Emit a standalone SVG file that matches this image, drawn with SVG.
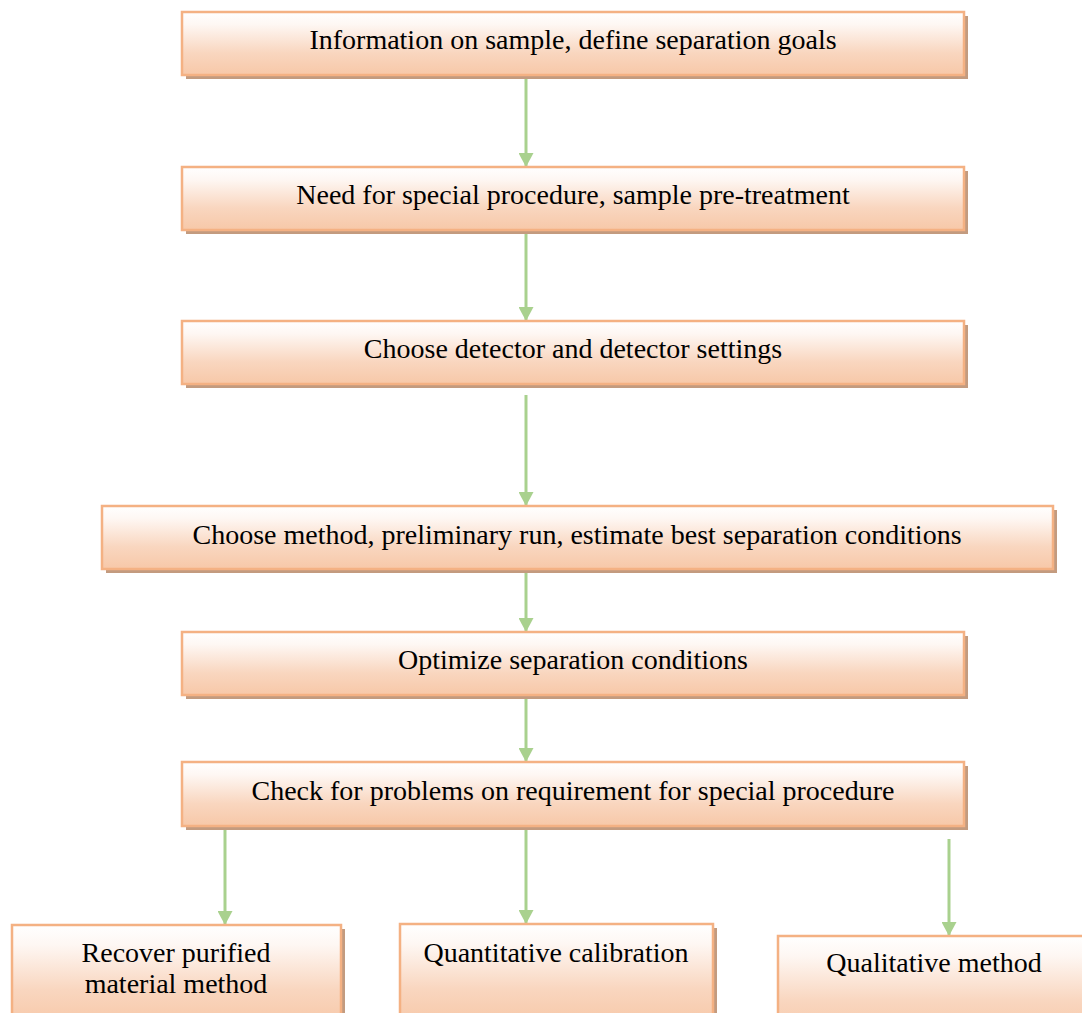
<svg xmlns="http://www.w3.org/2000/svg" width="1082" height="1013" viewBox="0 0 1082 1013">
<defs>
<linearGradient id="g" x1="0" y1="0" x2="0" y2="1">
<stop offset="0" stop-color="#ffffff"/>
<stop offset="0.2" stop-color="#fef7f3"/>
<stop offset="0.65" stop-color="#f9d6bf"/>
<stop offset="1" stop-color="#f7c8a8"/>
</linearGradient>
<marker id="ah" viewBox="0 0 14 15" markerWidth="14" markerHeight="15" refX="14" refY="7.5" orient="auto" markerUnits="userSpaceOnUse">
<path d="M0,0 L14,7.5 L0,15 z" fill="#a9d18e"/>
</marker>
</defs>
<style>
.box{fill:url(#g);stroke:#f4b183;stroke-width:2.5}
.sh{fill:#c39b7f}
.t{font-family:"Liberation Serif","Times New Roman",serif;font-size:28px;fill:#000;text-anchor:middle}
.c{stroke:#a9d18e;stroke-width:3;fill:none;marker-end:url(#ah)}
</style>
<g id="connectors">
<line class="c" x1="526" y1="78" x2="526" y2="167"/>
<line class="c" x1="526" y1="233" x2="526" y2="321"/>
<line class="c" x1="526" y1="395" x2="526" y2="506"/>
<line class="c" x1="526" y1="572" x2="526" y2="632"/>
<line class="c" x1="526" y1="698" x2="526" y2="762"/>
<line class="c" x1="225" y1="829" x2="225" y2="925"/>
<line class="c" x1="526" y1="829" x2="526" y2="924"/>
<line class="c" x1="949" y1="839" x2="949" y2="936"/>
</g>
<g id="n1">
<rect class="sh" x="186" y="16" width="782" height="63"/>
<rect class="box" x="182" y="12" width="782" height="63"/>
<text class="t" x="573" y="49">Information on sample, define separation goals</text>
</g>
<g id="n2">
<rect class="sh" x="186" y="171" width="782" height="63"/>
<rect class="box" x="182" y="167" width="782" height="63"/>
<text class="t" x="573" y="204">Need for special procedure, sample pre-treatment</text>
</g>
<g id="n3">
<rect class="sh" x="186" y="325" width="782" height="63"/>
<rect class="box" x="182" y="321" width="782" height="63"/>
<text class="t" x="573" y="358">Choose detector and detector settings</text>
</g>
<g id="n4">
<rect class="sh" x="106" y="510" width="951" height="63"/>
<rect class="box" x="102" y="506" width="951" height="63"/>
<text class="t" x="577" y="544">Choose method, preliminary run, estimate best separation conditions</text>
</g>
<g id="n5">
<rect class="sh" x="186" y="636" width="782" height="63"/>
<rect class="box" x="182" y="632" width="782" height="63"/>
<text class="t" x="573" y="669">Optimize separation conditions</text>
</g>
<g id="n6">
<rect class="sh" x="186" y="766" width="782" height="64"/>
<rect class="box" x="182" y="762" width="782" height="64"/>
<text class="t" x="573" y="800">Check for problems on requirement for special procedure</text>
</g>
<g id="n7">
<rect class="sh" x="16" y="929" width="329" height="100"/>
<rect class="box" x="12" y="925" width="329" height="100"/>
<text class="t" x="176" y="962">Recover purified</text>
<text class="t" x="176" y="993">material method</text>
</g>
<g id="n8">
<rect class="sh" x="404" y="928" width="313" height="100"/>
<rect class="box" x="400" y="924" width="313" height="100"/>
<text class="t" x="556" y="962">Quantitative calibration</text>
</g>
<g id="n9">
<rect class="sh" x="782" y="940" width="313" height="100"/>
<rect class="box" x="778" y="936" width="313" height="100"/>
<text class="t" x="934" y="972">Qualitative method</text>
</g>
</svg>
